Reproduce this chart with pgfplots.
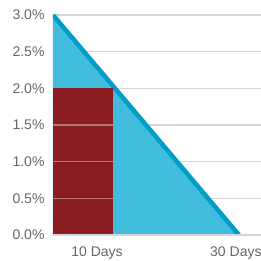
\documentclass[border=0pt]{standalone}
\usepackage{pgfplots}
\pgfplotsset{compat=1.18}
\usepackage{fontspec}
\setmainfont{Liberation Sans}
\definecolor{fillblue}{HTML}{42BCDC}
\definecolor{lineblue}{HTML}{009DC8}
\definecolor{barred}{HTML}{8A1C22}
\definecolor{gridgray}{HTML}{D6D6D6}
\definecolor{txtgray}{HTML}{666666}
\begin{document}
\begin{tikzpicture}
\begin{axis}[
  scale only axis, width=208pt, height=220pt,
  xmin=0, xmax=33.55, ymin=0, ymax=3,
  axis line style={draw=none},
  major tick length=0pt,
  ytick={0,0.5,1,1.5,2,2.5,3},
  yticklabels={0.0\%,0.5\%,1.0\%,1.5\%,2.0\%,2.5\%,3.0\%},
  xtick={7.1,29.5},
  xticklabels={10 Days,30 Days},
  ymajorgrids,
  grid style={gridgray, line width=1.3pt},
  tick label style={font=\fontsize{14}{16}\selectfont, text=txtgray},
  yticklabel style={xshift=-5pt},
  xticklabel style={yshift=-8pt},
]
\addplot[fill=fillblue, draw=none] coordinates {(0,0) (0,3) (30,0)} -- cycle;
\addplot[lineblue, line width=4.5pt] coordinates {(0,3) (30,0)};
\addplot[fill=barred, draw=none] coordinates {(0,0) (0,2) (9.7,2) (9.7,0)} -- cycle;
\addplot[gridgray, opacity=0.5, line width=1.3pt] coordinates {(0,0.5) (9.7,0.5)};
\addplot[gridgray, opacity=0.5, line width=1.3pt] coordinates {(0,1) (9.7,1)};
\addplot[gridgray, opacity=0.5, line width=1.3pt] coordinates {(0,1.5) (9.7,1.5)};
\addplot[gridgray, line width=1.3pt] coordinates {(0,0) (33.55,0)};
\end{axis}
\pgfresetboundingbox
\path ([shift={(-53pt,-26pt)}]current axis.south west) rectangle ([shift={(0pt,15pt)}]current axis.north east);
\end{tikzpicture}
\end{document}
